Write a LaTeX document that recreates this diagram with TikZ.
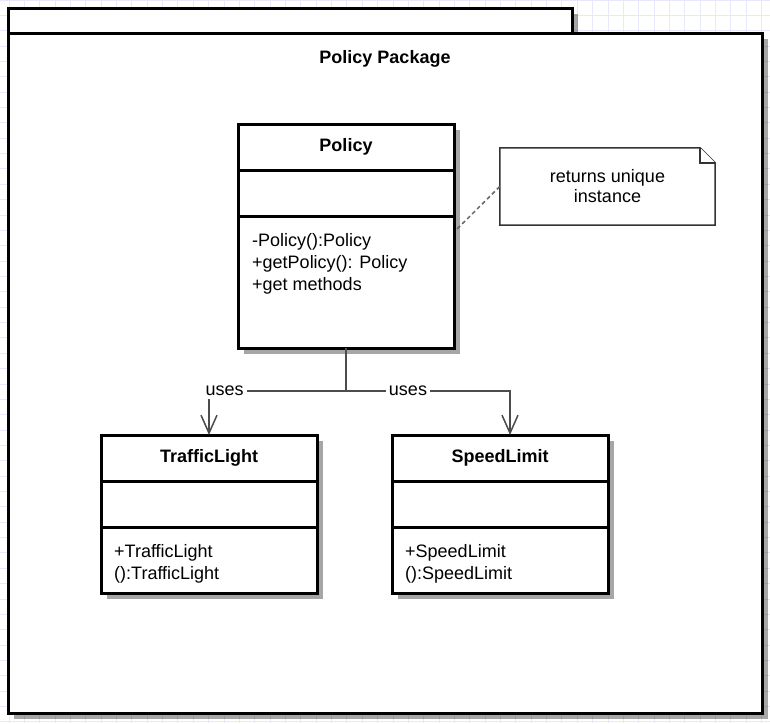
\documentclass[tikz,border=0pt]{standalone}
\usepackage{fontspec}
\setmainfont{Liberation Sans}
\usepackage{tikz}
\usetikzlibrary{positioning}
\usetikzlibrary{arrows.meta}
\usetikzlibrary{shadows}
\definecolor{gridcol}{RGB}{232,232,252}
\colorlet{linkcol}{black!70}

\begin{document}
\begin{tikzpicture}[x=1pt, y=-1pt, font=\fontsize{18}{22}\selectfont,
  boxshadow/.style={drop shadow={shadow xshift=6pt, shadow yshift=-6pt, fill=black, opacity=0.35}},
  pkgbox/.style={draw, line width=3pt, fill=white, inner sep=0pt, outer sep=0pt, boxshadow},
  classhead/.style={draw, line width=3pt, fill=white, minimum width=216pt, minimum height=46pt,
    inner sep=0pt, outer sep=0pt, font=\fontsize{18}{22}\selectfont\bfseries, boxshadow},
  classpart/.style={classhead, font=\fontsize{18}{22}\selectfont},
  members/.style={inner sep=0pt, align=left, anchor=north west},
  uses/.style={draw=linkcol, line width=2.2pt,
    -{Straight Barb[length=18pt, width=16pt, line width=1.5pt]}},
  useslabel/.style={fill=white, inner sep=3pt},
  notebox/.style={minimum width=215pt, minimum height=77pt, inner sep=0pt, align=center,
    font=\fontsize{18}{20}\selectfont},
  noteline/.style={draw=black!80, line width=1.5pt, fill=white},
  notelink/.style={draw=black!60, line width=1.5pt, dash pattern=on 4pt off 3pt}
]

\useasboundingbox (0,0) rectangle (770,723);

% Grid
\foreach \i in {0,...,49}
  \draw[gridcol, line width=1pt] ({9+15.36*\i},0) -- ({9+15.36*\i},723);
\foreach \j in {0,...,47}
  \draw[gridcol, line width=1pt] (0,{15.36*\j}) -- (770,{15.36*\j});

% Package
\node[pkgbox, minimum width=564pt, minimum height=25pt] (pkgtab) at (290,20.5) {};
\node[pkgbox, minimum width=754pt, minimum height=680pt] (pkg) at (385,373) {};
\node[font=\fontsize{18}{22}\selectfont\bfseries] (pkgname) at (385,59) {Policy Package};

% Policy class
\node[classhead] (polname) at (346,147) {\raisebox{-2pt}{Policy}};
\node[classpart, below=0pt of polname] (polattr) {};
\node[classpart, minimum height=132pt, below=0pt of polattr] (polops) {};
\node[members, below right=17pt and 14pt of polops.north west] (polmeth)
  {-Policy():Policy\\+getPolicy(): Policy\\+get methods};

% TrafficLight class
\node[classhead] (tlname) at (209,458) {\raisebox{-2pt}{TrafficLight}};
\node[classpart, below=0pt of tlname] (tlattr) {};
\node[classpart, minimum height=66pt, below=0pt of tlattr] (tlops) {};
\node[members, below right=17pt and 13pt of tlops.north west] (tlmeth)
  {+TrafficLight\\():TrafficLight};

% SpeedLimit class
\node[classhead] (slname) at (500,458) {\raisebox{-2pt}{SpeedLimit}};
\node[classpart, below=0pt of slname] (slattr) {};
\node[classpart, minimum height=66pt, below=0pt of slattr] (slops) {};
\node[members, below right=17pt and 13pt of slops.north west] (slmeth)
  {+SpeedLimit\\():SpeedLimit};

% Note
\node[notebox] (note) at (607.5,186.5) {};
\draw[noteline] (note.south west) -- (note.north west) -- ([xshift=-15pt]note.north east)
  -- ([yshift=-15pt]note.north east) -- (note.south east) -- cycle;
\draw[noteline] ([xshift=-15pt]note.north east) |- ([yshift=-15pt]note.north east);
\node[notebox] (notetext) at (note.center) {returns unique\\instance};

% Note link
\coordinate (polhook) at ([shift={(3pt,-13pt)}]polops.north east);
\draw[notelink] (note.west) -- (polhook);

% Uses links
\coordinate[below=43pt of polops.south] (fork);
\draw[uses] (polops.south) -- (fork) -| (tlname.north)
  node[useslabel, pos=0.443] (usestl) {uses};
\draw[uses] (polops.south) -- (fork) -| ([xshift=10pt]slname.north)
  node[useslabel, pos=0.189] (usessl) {uses};

\end{tikzpicture}
\end{document}
